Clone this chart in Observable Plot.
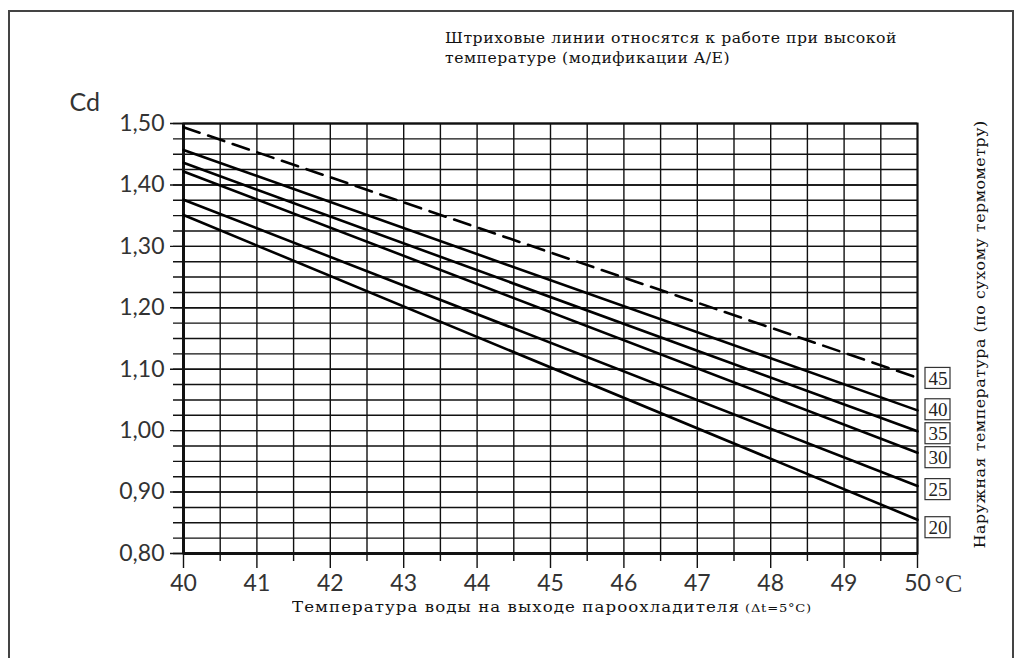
<!DOCTYPE html>
<html><head><meta charset="utf-8">
<script src="https://cdn.jsdelivr.net/npm/d3@7"></script>
<script src="https://cdn.jsdelivr.net/npm/@observablehq/plot@0.6"></script>
<style>
body{margin:0;background:#fff;}
#wrap{position:relative;width:1020px;height:658px;overflow:hidden;background:#fff;}
#frame{position:absolute;left:8px;top:10px;width:1006px;height:700px;border:2px solid #444;box-sizing:border-box;}
#chart{position:absolute;left:0;top:0;}
.lbl{position:absolute;font-family:"DejaVu Serif",serif;white-space:nowrap;color:#111;line-height:1;}
</style></head><body>
<div id="wrap"><div id="frame"></div><div id="chart"></div></div>
<script>
// Data
const outdoorTemps = [45, 40, 35, 30, 25, 20];          // наружная температура, °C
const waterTemps = [40, 50];                             // температура воды на выходе, °C
const cdAt40 = [1.494, 1.457, 1.436, 1.422, 1.376, 1.351];
const cdAt50 = [1.086, 1.033, 0.999, 0.964, 0.910, 0.855];
const labelCd = [1.085, 1.034, 0.995, 0.956, 0.904, 0.842];
const yTicks = [0.80, 0.90, 1.00, 1.10, 1.20, 1.30, 1.40, 1.50];
const xTicks = [40, 41, 42, 43, 44, 45, 46, 47, 48, 49, 50];
const yGrid = d3.range(0, 29).map(i => 0.8 + i * 0.025);
const xHalf = xTicks.slice(0, -1).map(v => v + 0.5);

const titleLines = ["Штриховые линии относятся к работе при высокой", "температуре (модификации A/E)"];
const xTitle = "Температура воды на выходе пароохладителя";
const xTitleNote = "(\u0394t=5°C)";
const rightTitle = "Наружная температура (по сухому термометру)";

const rows = outdoorTemps.flatMap((t, i) => [
  {t, w: waterTemps[0], cd: cdAt40[i]},
  {t, w: waterTemps[1], cd: cdAt50[i]}
]);
const labels = outdoorTemps.map((t, i) => ({t, cd: labelCd[i]}));

const plot = Plot.plot({
  width: 1020, height: 658,
  marginLeft: 183, marginRight: 103, marginTop: 123, marginBottom: 105,
  x: {domain: [40, 50], label: null},
  y: {domain: [0.8, 1.5], label: null},
  style: {fontFamily: "Lato, sans-serif", fontSize: "23px", color: "#222", background: "transparent", overflow: "visible"},
  marks: [
    Plot.ruleY(yGrid, {stroke: "#111", strokeWidth: 1.4, insetLeft: -10}),
    Plot.ruleY(yTicks, {stroke: "#111", strokeWidth: 1.4, insetLeft: -13}),
    Plot.ruleX(xHalf, {stroke: "#111", strokeWidth: 1.4, insetBottom: -8}),
    Plot.ruleX(xTicks, {stroke: "#111", strokeWidth: 1.4, insetBottom: -15}),
    Plot.frame({stroke: "#111", strokeWidth: 2}),
    Plot.ruleX([40], {stroke: "#111", strokeWidth: 3}),
    Plot.ruleY([0.8], {stroke: "#111", strokeWidth: 3}),
    Plot.line(rows.filter(d => d.t !== 45), {x: "w", y: "cd", z: "t", stroke: "#000", strokeWidth: 2.6}),
    Plot.line(rows.filter(d => d.t === 45), {x: "w", y: "cd", z: "t", stroke: "#000", strokeWidth: 2.6, strokeDasharray: "17,9"}),
    Plot.axisY(yTicks, {label: null, tickSize: 0, tickPadding: 19, tickFormat: d => d.toFixed(2).replace(".", ","), fontSize: 23, fill: "#333"}),
    Plot.axisX(xTicks, {label: null, tickSize: 0, tickPadding: 21, tickFormat: d => String(d), fontSize: 23, fill: "#333"}),
    Plot.text([{w: 50, s: "°C"}], {x: "w", text: "s", frameAnchor: "bottom", dy: 20, dx: 17, lineAnchor: "top", textAnchor: "start", fontFamily: "Liberation Serif, serif", fontSize: 26, fill: "#333"}),
    Plot.text([{s: "Cd"}], {text: "s", frameAnchor: "top-left", dx: -114, dy: -21, textAnchor: "start", lineAnchor: "middle", fontSize: 25, fill: "#333"}),
    Plot.rect(labels, {x1: 50, x2: 50, y1: "cd", y2: "cd", insetLeft: 8, insetRight: -33, insetTop: -10.5, insetBottom: -10.5, fill: "white", stroke: "#333", strokeWidth: 1.2}),
    Plot.text(labels, {x: 50, y: "cd", text: d => String(d.t), dx: 20.5, fontFamily: "Liberation Serif, serif", fontSize: 19, fill: "#222"})
  ]
});
document.getElementById("chart").appendChild(plot);

const wrap = document.getElementById("wrap");
// stretch the text horizontally (partly spacing, partly glyph width) to the width seen in the reference
function fit(el, width, rot) {
  const n = el.textContent.length;
  const w0 = el.getBoundingClientRect().width;
  const extra = width - w0;
  el.style.letterSpacing = (extra * 0.4 / n) + "px";
  const w1 = el.getBoundingClientRect().width;
  const s = width / w1;
  el.dataset.sx = s;
  if (!rot) { el.style.transformOrigin = "0 0"; el.style.transform = `scaleX(${s})`; }
}
function addText(text, left, baseline, size, width) {
  const d = document.createElement("div");
  d.className = "lbl";
  d.style.fontSize = size + "px";
  d.textContent = text;
  d.style.left = left + "px";
  d.style.top = (baseline - 0.8 * size) + "px";
  wrap.appendChild(d);
  if (width) fit(d, width);
  return d;
}
addText(titleLines[0], 445, 43, 14.5, 452);
addText(titleLines[1], 445, 63, 14.5, 285);
addText(xTitle, 292, 612, 14.5, 448);
addText(xTitleNote, 745, 612, 11.5, 67);

const r = document.createElement("div");
r.className = "lbl";
r.style.fontSize = "14.5px";
r.textContent = rightTitle;
wrap.appendChild(r);
fit(r, 428, true);
const rw = r.getBoundingClientRect().width, rh = r.getBoundingClientRect().height;
r.style.left = (980 - rw / 2) + "px";
r.style.top = (334 - rh / 2) + "px";
r.style.transform = `rotate(-90deg) scaleX(${r.dataset.sx})`;
</script>
</body></html>
